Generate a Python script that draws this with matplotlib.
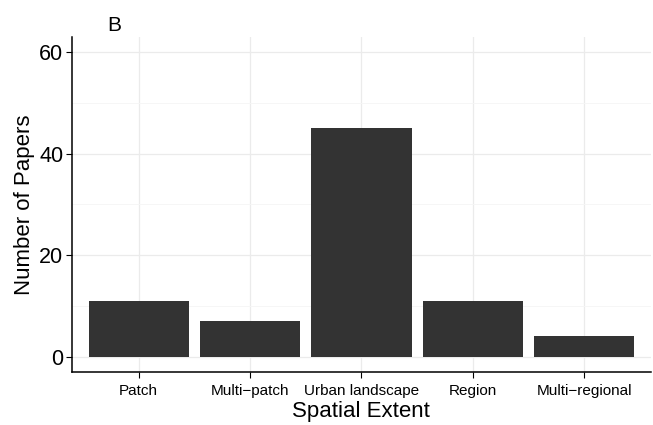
import matplotlib
matplotlib.use("Agg")
import matplotlib.pyplot as plt
from matplotlib.ticker import MultipleLocator

categories = ["Patch", "Multi\u2212patch", "Urban landscape", "Region", "Multi\u2212regional"]
papers = [11, 7, 45, 11, 4]

plt.rcParams['font.family'] = ['Liberation Sans', 'DejaVu Sans']

fig = plt.figure(figsize=(6.53, 4.25), dpi=100)
ax = fig.add_axes([0.110, 0.125, 0.887, 0.788])

x = list(range(1, len(categories) + 1))
ax.bar(x, papers, width=0.9, color="#333333", zorder=2)

ax.set_xlim(0.4, len(categories) + 0.6)
ax.set_ylim(-3, 63)
ax.set_xticks(x)
ax.set_xticklabels(categories, fontsize=11)
ax.yaxis.set_major_locator(MultipleLocator(20))
ax.yaxis.set_minor_locator(MultipleLocator(10))
ax.tick_params(axis="y", which="major", labelsize=15.5, length=4, width=0.8, colors="black", pad=2)
ax.tick_params(axis="y", which="minor", length=0)
ax.tick_params(axis="x", length=4, width=0.8, pad=5)

# ggplot-like grid: major lines a bit darker than the minor ones
ax.grid(True, which="major", color="#ebebeb", linewidth=0.9, zorder=0)
ax.grid(True, which="minor", axis="y", color="#f5f5f5", linewidth=0.6, zorder=0)
ax.set_axisbelow(True)

for side in ["top", "right"]:
    ax.spines[side].set_visible(False)
for side in ["left", "bottom"]:
    ax.spines[side].set_linewidth(1.1)
    ax.spines[side].set_color("black")

ax.set_xlabel("Spatial Extent", fontsize=16, labelpad=2)
ax.set_ylabel("Number of Papers", fontsize=16)
ax.yaxis.set_label_coords(-0.063, 0.5)
ax.set_title("B", loc="left", fontsize=15, x=0.062, pad=4)

fig.savefig("out.png", dpi=100)
